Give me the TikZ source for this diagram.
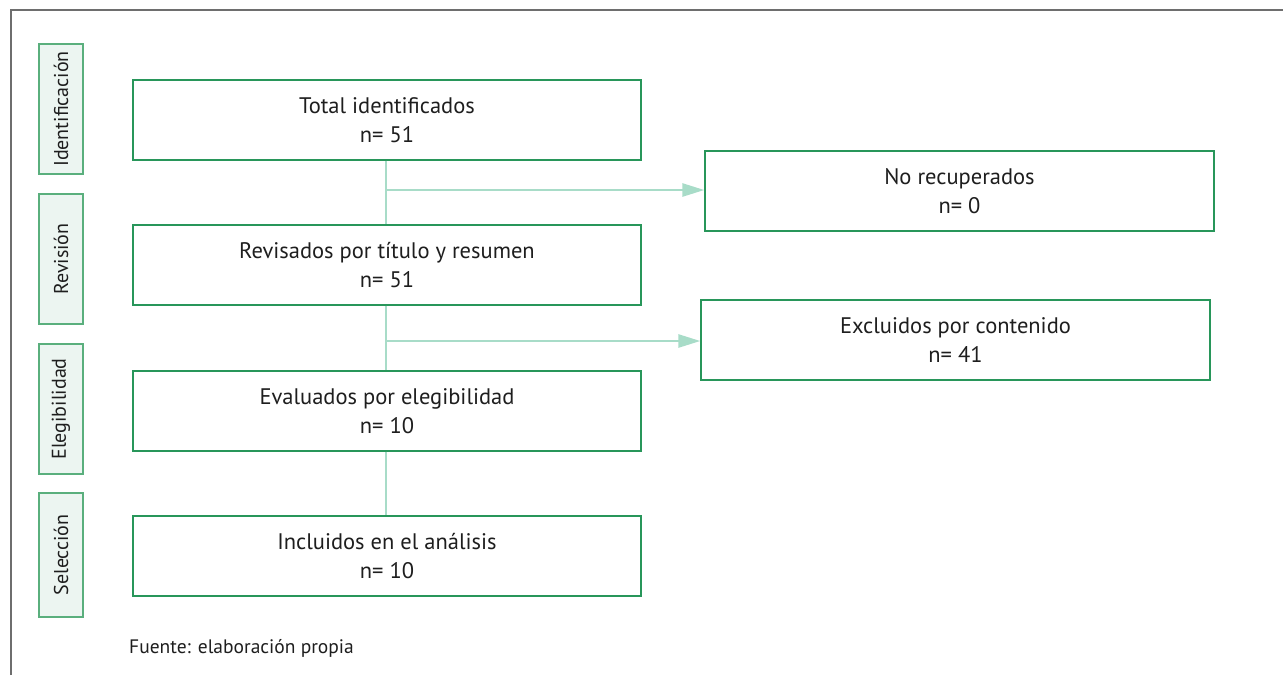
\documentclass[tikz,border=0pt]{standalone}
\usepackage{fontspec}
\setmainfont{PT Sans}
\usetikzlibrary{arrows.meta}
\definecolor{frame}{RGB}{110,110,110}
\definecolor{boxgreen}{RGB}{40,150,90}
\definecolor{sidefill}{RGB}{236,245,241}
\definecolor{sideline}{RGB}{90,175,125}
\definecolor{conn}{RGB}{168,220,200}
\definecolor{txt}{RGB}{30,30,30}
\tikzset{
  mainbox/.style={draw=boxgreen, line width=1.3pt, minimum width=508pt, minimum height=80pt, align=center, inner sep=0pt, font=\fontsize{22.5}{28.5}\selectfont, text=txt},
  sidebox/.style={draw=sideline, fill=sidefill, line width=1.6pt, minimum width=44pt, align=center, inner sep=0pt, font=\fontsize{20}{23}\selectfont, text=txt},
  conline/.style={draw=conn, line width=2.6pt},
  conarrow/.style={conline, -{Triangle[length=22pt,width=13pt]}}
}
\begin{document}
\begin{tikzpicture}[x=1pt,y=-1pt]
\useasboundingbox (0,0) rectangle (1283,675);
\draw[frame, line width=1.5pt] (11,675) -- (11,10) -- (1283,10);
% side boxes
\node[sidebox, minimum height=130pt] (s1) at (61,109) {\rotatebox{90}{Identificación}};
\node[sidebox, minimum height=130pt] (s2) at (61,259) {\rotatebox{90}{Revisión}};
\node[sidebox, minimum height=130pt] (s3) at (61,409) {\rotatebox{90}{Elegibilidad}};
\node[sidebox, minimum height=124pt] (s4) at (61,555) {\rotatebox{90}{Selección}};
% main boxes
\node[mainbox] (b1) at (387,120) {Total identificados\\n= 51};
\node[mainbox] (b2) at (387,265) {Revisados por título y resumen\\n= 51};
\node[mainbox] (b3) at (387,411) {Evaluados por elegibilidad\\n= 10};
\node[mainbox] (b4) at (387,556) {Incluidos en el análisis\\n= 10};
\node[mainbox, minimum width=509pt] (r1) at (959.5,191) {No recuperados\\n= 0};
\node[mainbox, minimum width=509pt] (r2) at (955.5,340) {Excluidos por contenido\\n= 41};
% connectors
\coordinate (j1) at (386,190);
\coordinate (j2) at (386,341);
\draw[conline] (b1.south -| j1) -- (b2.north -| j1);
\draw[conline] (b2.south -| j2) -- (b3.north -| j2);
\draw[conline] (b3.south -| j1) -- (b4.north -| j1);
\draw[conarrow] (j1) -- (r1.west |- j1);
\draw[conarrow] (j2) -- (r2.west |- j2);
% footer
\node[anchor=west, inner sep=0pt, font=\fontsize{19.5}{22}\selectfont, text=txt] (src) at (129,648) {Fuente: elaboración propia};
\end{tikzpicture}
\end{document}
